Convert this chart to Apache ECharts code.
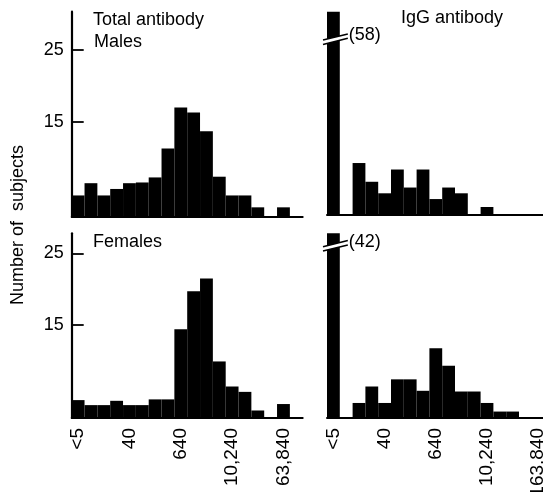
<!DOCTYPE html>
<html>
<head>
<meta charset="utf-8">
<script src="https://cdn.jsdelivr.net/npm/echarts@6/dist/echarts.min.js"></script>
<style>
html,body{margin:0;padding:0;background:#fff;}
#chart{width:543px;height:492px;}
</style>
</head>
<body>
<div id="chart"></div>
<script>
// ---- data ----
var categories = ['<5','5','10','20','40','80','160','320','640','1,280','2,560','5,120','10,240','20,480','40,960','81,920','163,840','327,680'];
var leftTickLabels = ['<5','40','640','10,240','63,840'];
var rightTickLabels = ['<5','40','640','10,240','163,840'];
var yTickValues = [15, 25];
var maleTotal   = [4.8, 6.5, 4.8, 5.7, 6.5, 6.6, 7.3, 11.3, 17.0, 16.3, 13.7, 7.4, 4.8, 4.8, 3.15, 0, 3.15, 0];
var maleIgG     = [58, 0, 9.3, 6.7, 5.1, 8.4, 5.9, 8.4, 4.3, 5.9, 5.1, 0, 3.2, 0, 0, 0, 0, 0];
var femaleTotal = [4.5, 3.8, 3.8, 4.4, 3.8, 3.8, 4.6, 4.6, 14.4, 19.7, 21.5, 9.9, 6.4, 5.65, 3.05, 0, 3.95, 0];
var femaleIgG   = [42, 0, 4.1, 6.4, 4.1, 7.4, 7.4, 5.8, 11.75, 9.3, 5.7, 5.7, 4.1, 2.9, 2.9, 0, 0, 0];
var brokenLabels = ['(58)', '(42)'];

var FONT = 'Liberation Sans';
var chart = echarts.init(document.getElementById('chart'), null, {renderer: 'canvas'});

var grids = [
  {left: 71.7, top: 11.7, width: 231, height: 205},
  {left: 327, top: 11.7, width: 230.4, height: 203},
  {left: 71.7, top: 233.3, width: 231, height: 184.7},
  {left: 327, top: 233.3, width: 230.4, height: 184.7}
].map(function (g) { g.outerBoundsMode = 'none'; g.containLabel = false; return g; });
var yRanges = [[1.85, 30.3], [2.13, 30.3], [2.0, 27.8], [2.0, 27.8]];

function xAxisFor(i, labels, showLabels) {
  return {
    type: 'category', gridIndex: i, data: categories,
    boundaryGap: true,
    axisLine: {show: true, lineStyle: {color: '#000', width: 2}},
    axisTick: {show: false},
    axisLabel: {
      show: showLabels,
      interval: 3, rotate: 90, margin: 10, color: '#000',
      fontFamily: FONT, fontSize: 19,
      formatter: function (v, idx) { return labels[idx / 4] || ''; }
    },
    splitLine: {show: false}
  };
}
function yAxisFor(i, visible) {
  return {
    type: 'value', gridIndex: i, min: yRanges[i][0], max: yRanges[i][1],
    show: visible,
    axisLine: {show: true, lineStyle: {color: '#000', width: 2.2}},
    axisTick: {show: true, inside: true, length: 12, customValues: yTickValues, lineStyle: {color: '#000', width: 1.8}},
    axisLabel: {show: true, customValues: yTickValues, margin: 8, color: '#000', fontFamily: FONT, fontSize: 18},
    splitLine: {show: false}
  };
}
function barSeries(i, data) {
  return {
    type: 'bar', xAxisIndex: i, yAxisIndex: i, data: data,
    barWidth: '100%', barCategoryGap: 0, clip: true,
    itemStyle: {color: '#000'}
  };
}

chart.setOption({
  backgroundColor: '#fff',
  animation: false,
  grid: grids,
  xAxis: [xAxisFor(0, leftTickLabels, false), xAxisFor(1, rightTickLabels, false), xAxisFor(2, leftTickLabels, true), xAxisFor(3, rightTickLabels, true)],
  yAxis: [yAxisFor(0, true), yAxisFor(1, false), yAxisFor(2, true), yAxisFor(3, false)],
  series: [barSeries(0, maleTotal), barSeries(1, maleIgG), barSeries(2, femaleTotal), barSeries(3, femaleIgG)]
});

// ---- annotations ----
function txt(x, y, s) {
  return {type: 'text', x: x, y: y, z: 100,
    style: {text: s, fill: '#000', font: '18px "' + FONT + '"', textVerticalAlign: 'middle'}};
}
var graphics = [
  txt(93, 20, 'Total antibody'),
  txt(94, 42, 'Males'),
  txt(93, 242, 'Females'),
  txt(401, 18.5, 'IgG antibody'),
  {type: 'text', x: 18.5, y: 225, rotation: Math.PI / 2, z: 100,
   style: {text: 'Number of  subjects', fill: '#000', font: '18px "' + FONT + '"', textAlign: 'center', textVerticalAlign: 'middle'}}
];
// break marks on the off-scale first IgG bars
[[1, 28, -5], [3, 13, -4.5]].forEach(function (b, k) {
  var gi = b[0];
  var p = chart.convertToPixel({xAxisIndex: gi, yAxisIndex: gi}, [0, yRanges[gi][1]]);
  var bw = grids[gi].width / categories.length;
  var xl = p[0] - bw / 2 - 4, xr = p[0] + bw / 2 + 8;
  var yc = p[1] + b[1];
  var yl = yc - 0.25 * (xl - p[0]), yr = yc - 0.25 * (xr - p[0]);
  var g = 2.2;
  graphics.push({type: 'polygon', z: 90, shape: {points: [[xl, yl - g], [xr, yr - g], [xr, yr + g], [xl, yl + g]]}, style: {fill: '#fff'}});
  graphics.push({type: 'line', z: 91, shape: {x1: xl, y1: yl - g, x2: xr, y2: yr - g}, style: {stroke: '#000', lineWidth: 1.5}});
  graphics.push({type: 'line', z: 91, shape: {x1: xl, y1: yl + g, x2: xr, y2: yr + g}, style: {stroke: '#000', lineWidth: 1.5}});
  graphics.push(txt(xr + 1, yc + b[2], brokenLabels[k]));
});
chart.setOption({graphic: graphics});
</script>
</body>
</html>
